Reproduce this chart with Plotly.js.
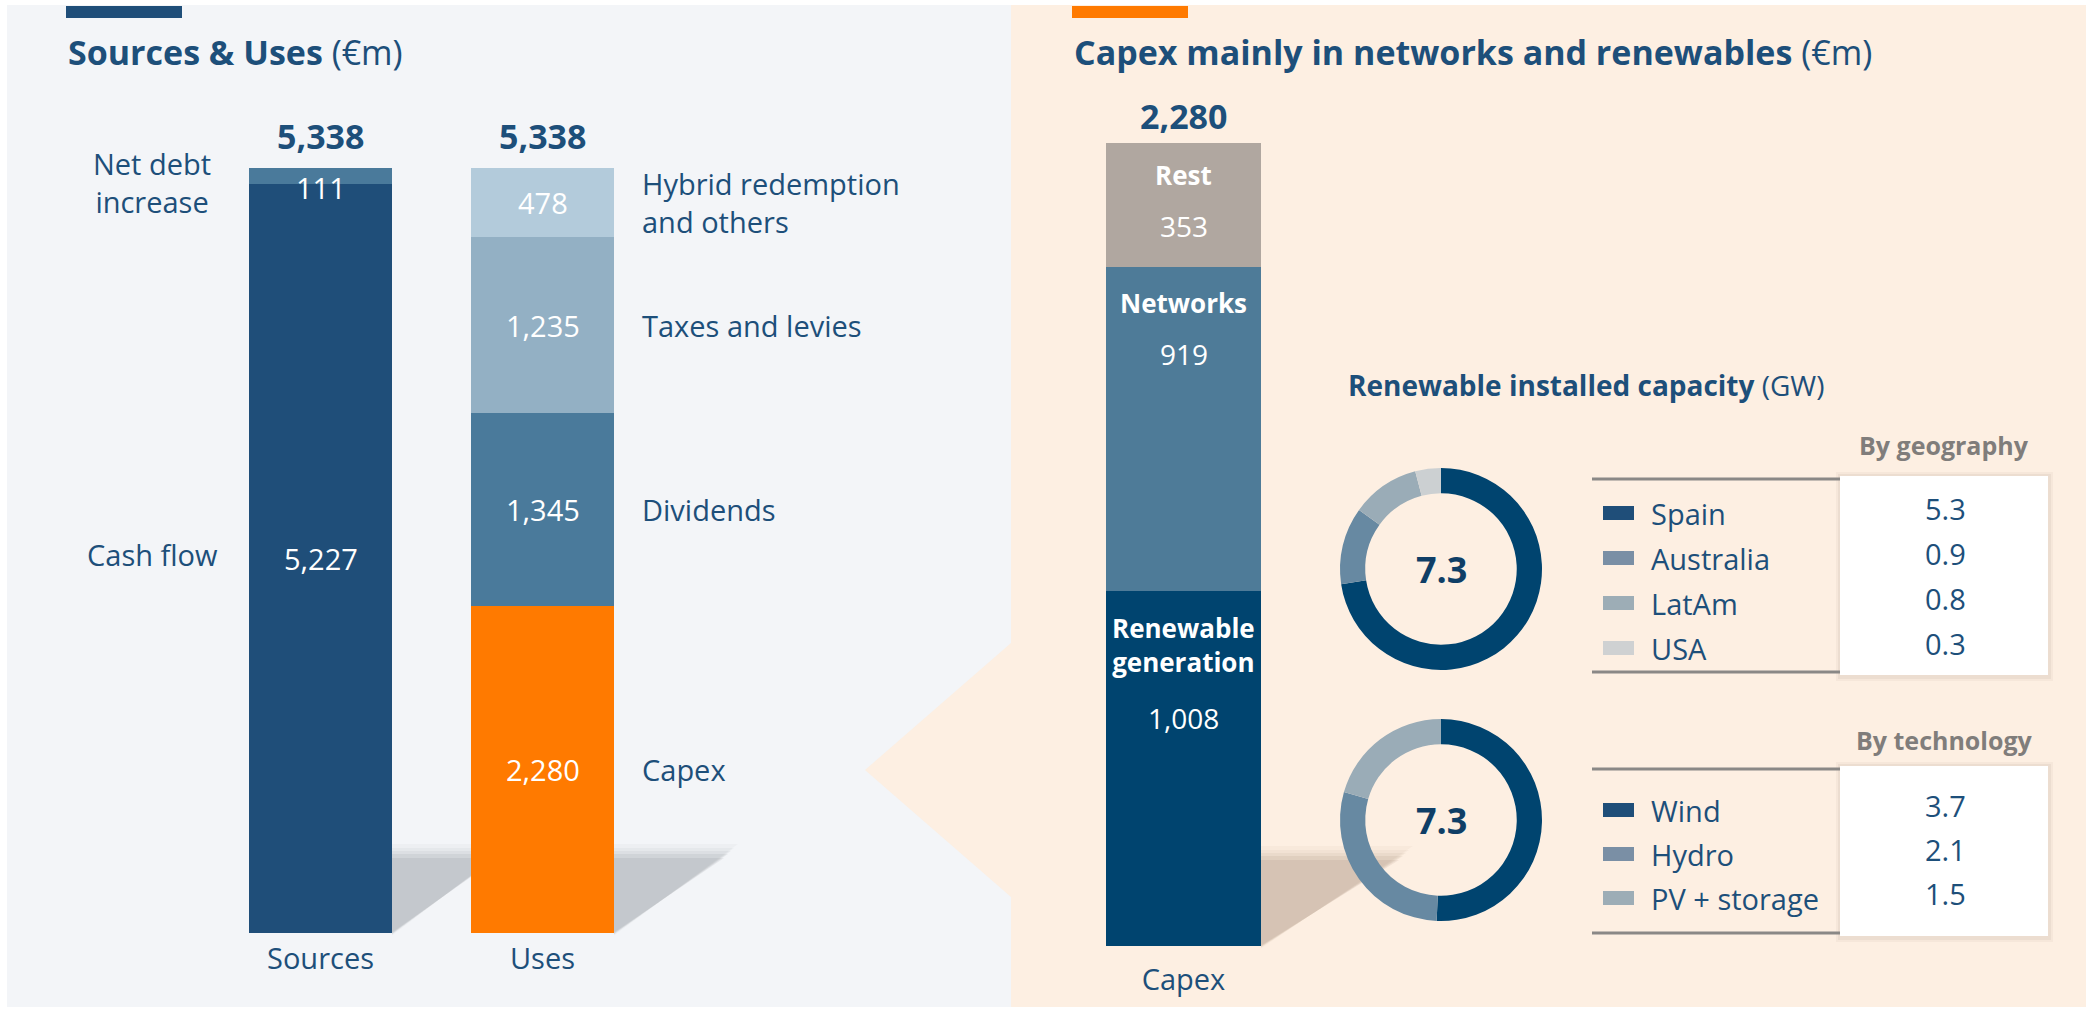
<!DOCTYPE html>
<html><head><meta charset="utf-8">
<script src="https://cdn.plot.ly/plotly-3.0.1.min.js"></script>
<style>html,body{margin:0;padding:0;background:#fff;}#chart{width:2086px;height:1010px;}</style>
</head><body><div id="chart"></div>
<script>
// ---------------- data ----------------
const barCategories = ['Sources', 'Uses'];
const sourcesLabels = ['Cash flow', 'Net debt<br>increase'];
const sourcesValues = [5227, 111];
const usesLabels = ['Capex', 'Dividends', 'Taxes and levies', 'Hybrid redemption<br>and others'];
const usesValues = [2280, 1345, 1235, 478];
const capexCategory = ['Capex'];
const capexLabels = ['Renewable<br>generation', 'Networks', 'Rest'];
const capexValues = [1008, 919, 353];
const geoLabels = ['Spain', 'Australia', 'LatAm', 'USA'];
const geoValues = [5.3, 0.9, 0.8, 0.3];
const techLabels = ['Wind', 'Hydro', 'PV + storage'];
const techValues = [3.7, 2.1, 1.5];

// ---------------- style ----------------
const W = 2086, H = 1010;
const FONT = '"Open Sans", "Noto Sans", sans-serif';
const NAVY = '#1d4f7a';
const LEFT_BG = '#f3f5f8', RIGHT_BG = '#fdefe2';
const sourcesColors = ['#1f4e79', '#4a7a9b'];
const usesColors = ['#ff7a00', '#4a7a9b', '#93b0c4', '#b3cbdb'];
const capexColors = ['#00446f', '#4e7b98', '#b0a7a0'];
const donutColorsGeo = ['#00446f', '#6789a2', '#9aacb7', '#ccd0d2'];
const donutColorsTech = ['#00446f', '#6789a2', '#9aacb7'];
const swatchGeo = ['#1f4e79', '#7a8fa5', '#9dadb6', '#cfd1d2'];
const swatchTech = ['#1f4e79', '#7a8fa5', '#9dadb6'];

const px = x => x / W;
const py = y => 1 - y / H;
const fmt = v => v.toLocaleString('en-US');
const sum = a => a.reduce((s, v) => s + v, 0);
function stack(vals) { let c = 0; return vals.map(v => { const o = {lo: c, mid: c + v / 2, hi: c + v}; c += v; return o; }); }

// layout geometry (pixels)
const L_TOP = 168, L_BOT = 933, L_X0 = 209.5, L_X1 = 653.5, L_BW = 0.644;
const C_TOP = 143, C_BOT = 946, C_X0 = 1106, C_X1 = 1261;

const sourcesTotal = sum(sourcesValues), usesTotal = sum(usesValues), capexTotal = sum(capexValues);
const leftMax = Math.max(sourcesTotal, usesTotal);

// ---------------- traces ----------------
const traces = [];
sourcesValues.forEach((v, i) => traces.push({type: 'bar', x: [barCategories[0]], y: [v], width: [L_BW],
  marker: {color: sourcesColors[i], line: {width: 0}}, xaxis: 'x', yaxis: 'y', hoverinfo: 'skip', showlegend: false}));
usesValues.forEach((v, i) => traces.push({type: 'bar', x: [barCategories[1]], y: [v], width: [L_BW],
  marker: {color: usesColors[i], line: {width: 0}}, xaxis: 'x', yaxis: 'y', hoverinfo: 'skip', showlegend: false}));
capexValues.forEach((v, i) => traces.push({type: 'bar', x: capexCategory, y: [v], width: [1],
  marker: {color: capexColors[i], line: {width: 0}}, xaxis: 'x2', yaxis: 'y2', hoverinfo: 'skip', showlegend: false}));

const D1 = {cx: 1441, cy: 569, r: 101}, D2 = {cx: 1441, cy: 820, r: 101};
function donut(vals, labels, colors, d) {
  return {type: 'pie', values: vals, labels: labels, hole: 0.75, sort: false, direction: 'clockwise', rotation: 0,
    marker: {colors: colors, line: {width: 0}}, textinfo: 'none', hoverinfo: 'skip', showlegend: false,
    domain: {x: [px(d.cx - d.r), px(d.cx + d.r)], y: [py(d.cy + d.r), py(d.cy - d.r)]}};
}
traces.push(donut(geoValues, geoLabels, donutColorsGeo, D1));
traces.push(donut(techValues, techLabels, donutColorsTech, D2));

// ---------------- shapes ----------------
const shapes = [];
function rectPx(x0, y0, x1, y1, color) {
  shapes.push({type: 'rect', xref: 'paper', yref: 'paper', layer: 'below', x0: px(x0), x1: px(x1), y0: py(y1), y1: py(y0),
    fillcolor: color, line: {width: 0}});
}
function pathPx(pts, color) {
  const p = pts.map((q, i) => (i ? 'L ' : 'M ') + px(q[0]) + ',' + py(q[1])).join(' ') + ' Z';
  shapes.push({type: 'path', xref: 'paper', yref: 'paper', layer: 'below', path: p, fillcolor: color, line: {width: 0}});
}
function linePx(x0, y0, x1, y1, color, w) {
  shapes.push({type: 'line', xref: 'paper', yref: 'paper', layer: 'below', x0: px(x0), x1: px(x1), y0: py(y0), y1: py(y1),
    line: {color: color, width: w}});
}
// panels
rectPx(7, 5, 1011, 1007, LEFT_BG);
rectPx(1011, 5, W, 1007, RIGHT_BG);
pathPx([[1011, 643], [865, 770], [1011, 897]], RIGHT_BG);
// accent bars
rectPx(66, 6, 182, 18, '#1f4e79');
rectPx(1072, 6, 1188, 18, '#ff7a00');
// soft drop shadows behind bars
function shadow(xr, ytop, ybot, w, rgb) {
  [[12, 0.03], [8, 0.04], [5, 0.05], [2, 0.07], [-2, 0.08]].forEach(([e, a]) =>
    pathPx([[xr, ytop - e], [xr + w + e, ytop - e], [xr, ybot + e * 0.2]], `rgba(${rgb},${a})`));
}
const srcRight = 320.5 + 143 / 2, useRight = 542.5 + 143 / 2;
shadow(srcRight, 856, L_BOT, 108, '60,66,74');
shadow(useRight, 856, L_BOT, 112, '60,66,74');
shadow(C_X1, 858, C_BOT, 140, '100,70,45');
// tables
function table(top, bot) {
  rectPx(1836, top - 4, 2053, bot + 6, 'rgba(120,100,80,0.05)');
  rectPx(1838, top - 2, 2051, bot + 4, 'rgba(120,100,80,0.07)');
  rectPx(1840, top, 2048, bot, '#ffffff');
  linePx(1592, top + 3, 1840, top + 3, '#8a8886', 3);
  linePx(1592, bot - 3, 1840, bot - 3, '#8a8886', 3);
}
table(476, 675);
table(766, 936);

// ---------------- annotations ----------------
const ann = [];
function A(o) { ann.push(Object.assign({showarrow: false, font: {family: FONT, size: 29, color: NAVY}}, o)); }

// titles
A({xref: 'paper', yref: 'paper', x: px(66), y: py(52), xanchor: 'left', yanchor: 'middle',
  text: '<b>Sources &amp; Uses</b> (€m)', font: {family: FONT, size: 34, color: NAVY}});
A({xref: 'paper', yref: 'paper', x: px(1072), y: py(52), xanchor: 'left', yanchor: 'middle',
  text: '<b>Capex mainly in networks and renewables</b> (€m)', font: {family: FONT, size: 34, color: NAVY}});

// totals above left bars
[sourcesTotal, usesTotal].forEach((t, i) => A({xref: 'x', yref: 'y', x: barCategories[i], y: t, yanchor: 'middle', yshift: 32,
  text: '<b>' + fmt(t) + '</b>', font: {family: FONT, size: 34, color: NAVY}}));

// sources segments
const pxPerUnitL = (L_BOT - L_TOP) / leftMax;
stack(sourcesValues).forEach((s, i) => {
  const small = sourcesValues[i] * pxPerUnitL < 40;
  A({xref: 'x', yref: 'y', x: barCategories[0], y: small ? s.hi : s.mid, yanchor: small ? 'top' : 'middle', yshift: small ? 2 : 0,
    text: fmt(sourcesValues[i]), font: {family: FONT, size: 29, color: '#ffffff'}});
  A({xref: 'paper', yref: 'y', x: px(152), y: s.mid, xanchor: 'center', yanchor: 'middle', yshift: small ? -7 : 4,
    text: sourcesLabels[i]});
});
// uses segments
stack(usesValues).forEach((s, i) => {
  A({xref: 'x', yref: 'y', x: barCategories[1], y: s.mid, yanchor: 'middle',
    text: fmt(usesValues[i]), font: {family: FONT, size: 29, color: '#ffffff'}});
  A({xref: 'paper', yref: 'y', x: px(640), y: s.mid, xanchor: 'left', yanchor: 'middle', align: 'left',
    text: usesLabels[i]});
});

// capex bar
const pxPerUnitC = (C_BOT - C_TOP) / capexTotal;
A({xref: 'x2', yref: 'y2', x: capexCategory[0], y: capexTotal, yanchor: 'middle', yshift: 27,
  text: '<b>' + fmt(capexTotal) + '</b>', font: {family: FONT, size: 34, color: NAVY}});
stack(capexValues).forEach((s, i) => {
  const lines = capexLabels[i].split('<br>').length;
  const tight = capexValues[i] * pxPerUnitC < 150 ? 4 : 0;
  A({xref: 'x2', yref: 'y2', x: capexCategory[0], y: s.hi, yanchor: 'middle', yshift: -(36 + (lines - 1) * 18) + tight,
    text: '<b>' + capexLabels[i] + '</b>', font: {family: FONT, size: 26, color: '#ffffff'}});
  A({xref: 'x2', yref: 'y2', x: capexCategory[0], y: s.hi, yanchor: 'middle', yshift: -(87 + (lines - 1) * 40) + tight,
    text: fmt(capexValues[i]), font: {family: FONT, size: 28, color: '#ffffff'}});
});

// renewable capacity block
A({xref: 'paper', yref: 'paper', x: px(1346), y: py(385), xanchor: 'left', yanchor: 'middle',
  text: '<b>Renewable installed capacity</b> (GW)', font: {family: FONT, size: 28, color: NAVY}});
[[geoValues, D1], [techValues, D2]].forEach(([v, d]) => A({xref: 'paper', yref: 'paper', x: px(d.cx), y: py(d.cy),
  xanchor: 'center', yanchor: 'middle', text: '<b>' + sum(v).toFixed(1) + '</b>', font: {family: FONT, size: 36, color: '#0f3e66'}}));
A({xref: 'paper', yref: 'paper', x: px(1944), y: py(445), xanchor: 'center', yanchor: 'middle',
  text: '<b>By geography</b>', font: {family: FONT, size: 25, color: '#807d7b'}});
A({xref: 'paper', yref: 'paper', x: px(1944), y: py(740), xanchor: 'center', yanchor: 'middle',
  text: '<b>By technology</b>', font: {family: FONT, size: 25, color: '#807d7b'}});

function legendRows(labels, values, colors, y0, pitch) {
  labels.forEach((lab, i) => {
    const y = y0 + i * pitch;
    rectPx(1603, y - 7, 1634, y + 7, colors[i]);
    A({xref: 'paper', yref: 'paper', x: px(1649), y: py(y), xanchor: 'left', yanchor: 'middle', text: lab});
    A({xref: 'paper', yref: 'paper', x: px(1945), y: py(y - 5), xanchor: 'center', yanchor: 'middle',
      text: values[i].toFixed(1), font: {family: FONT, size: 29, color: NAVY}});
  });
}
legendRows(geoLabels, geoValues, swatchGeo, 513, 45);
legendRows(techLabels, techValues, swatchTech, 810, 44);

// ---------------- layout ----------------
const hiddenY = {showgrid: false, zeroline: false, showline: false, showticklabels: false, ticks: '', fixedrange: true};
const layout = {
  width: W, height: H, margin: {l: 0, r: 0, t: 0, b: 0, pad: 0},
  paper_bgcolor: '#ffffff', plot_bgcolor: 'rgba(0,0,0,0)',
  barmode: 'stack', showlegend: false, font: {family: FONT, color: NAVY},
  xaxis: {domain: [px(L_X0), px(L_X1)], range: [-0.5, 1.5], type: 'category', anchor: 'y',
    showgrid: false, zeroline: false, showline: false, ticks: '', ticklabelstandoff: 6,
    tickfont: {family: FONT, size: 29, color: NAVY}, fixedrange: true},
  yaxis: Object.assign({domain: [py(L_BOT), py(L_TOP)], range: [0, leftMax], anchor: 'x'}, hiddenY),
  xaxis2: {domain: [px(C_X0), px(C_X1)], range: [-0.5, 0.5], type: 'category', anchor: 'y2',
    showgrid: false, zeroline: false, showline: false, ticks: '', ticklabelstandoff: 14,
    tickfont: {family: FONT, size: 29, color: NAVY}, fixedrange: true},
  yaxis2: Object.assign({domain: [py(C_BOT), py(C_TOP)], range: [0, capexTotal], anchor: 'x2'}, hiddenY),
  shapes: shapes, annotations: ann
};
Plotly.newPlot('chart', traces, layout, {displayModeBar: false, staticPlot: true});
</script></body></html>
